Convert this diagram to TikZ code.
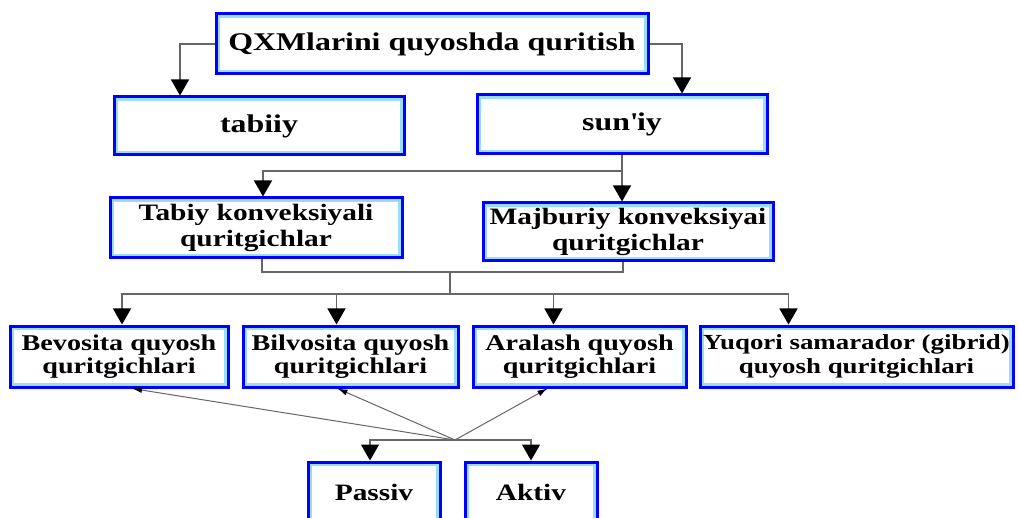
\documentclass[tikz,border=0pt]{standalone}
\usepackage{fontspec}
\newfontfamily\boxfont[FakeStretch=1.25]{Liberation Serif}
\usetikzlibrary{arrows.meta}

\begin{document}
\begin{tikzpicture}[x=1pt, y=-1pt,
    box/.style={draw=blue, line width=3pt, fill=white, inner sep=0pt, align=center,
      path picture={\draw[cyan!40, line width=8pt] (path picture bounding box.south west) rectangle (path picture bounding box.north east);}},
    headfont/.style={font=\boxfont\bfseries\fontsize{25.5}{27}\selectfont},
    midfont/.style={font=\boxfont\bfseries\fontsize{23.5}{26}\selectfont},
    lowfont/.style={font=\boxfont\bfseries\fontsize{22.5}{23.5}\selectfont},
    widefont/.style={font=\boxfont\bfseries\fontsize{21.5}{23.5}\selectfont},
    link/.style={draw=black!60, line width=1.4pt},
    conn/.style={link, -{Triangle[width=18pt,length=16pt,color=black]}},
    fan/.style={draw=black!60, line width=1pt, -{Latex[width=6pt,length=10pt,color=black]}}]
  \useasboundingbox (0,0) rectangle (1019,518);
  \node[box, headfont, minimum width=432, minimum height=60] (top) at (432,44) {QXMlarini quyoshda quritish};
  \node[box, headfont, minimum width=290, minimum height=58] (tab) at (259,126) {tabiiy};
  \node[box, headfont, minimum width=290, minimum height=59] (sun) at (622,124.5) {sun\textquotesingle iy};
  \node[box, midfont, minimum width=292, minimum height=60] (tk) at (256,228) {Tabiy konveksiyali\\quritgichlar};
  \node[box, midfont, minimum width=290, minimum height=58] (mk) at (628,232) {Majburiy konveksiyai\\quritgichlar};
  \node[box, lowfont, minimum width=218, minimum height=61] (bev) at (119,356.5) {Bevosita quyosh\\quritgichlari};
  \node[box, lowfont, minimum width=215, minimum height=61] (bil) at (350.5,356.5) {Bilvosita quyosh\\quritgichlari};
  \node[box, lowfont, minimum width=213, minimum height=61] (ara) at (579.5,356.5) {Aralash quyosh\\quritgichlari};
  \node[box, widefont, minimum width=313, minimum height=61] (yuq) at (856.5,356.5) {Yuqori samarador (gibrid)\\quyosh quritgichlari};
  \node[box, midfont, minimum width=132, minimum height=60] (pas) at (374,492) {Passiv};
  \node[box, midfont, minimum width=132, minimum height=60] (akt) at (531,492) {Aktiv};
  \coordinate (j1) at (450,272);
  \coordinate (j2) at (450,294);
  \coordinate (hub) at (455,440);
  \draw[conn] (top.west) -| ([xshift=-79]tab.north);
  \draw[conn] (top.east) -| ([xshift=60]sun.north);
  \draw[conn] (sun.south) -- (sun.south |- mk.north);
  \draw[conn] (sun.south) |- (622,171) -| ([xshift=7]tk.north);
  \draw[link] ([xshift=6]tk.south) |- (j1) -| ([xshift=-5]mk.south);
  \draw[link] (j1) -- (j2);
  \draw[conn] (j2) -| ([xshift=3]bev.north);
  \draw[conn] (j2) -| ([xshift=-14]bil.north);
  \draw[conn] (j2) -| ([xshift=-26]ara.north);
  \draw[conn] (j2) -| ([xshift=-68]yuq.north);
  \draw[fan] (hub) -- ([xshift=13]bev.south);
  \draw[fan] (hub) -- ([xshift=-13]bil.south);
  \draw[fan] (hub) -- ([xshift=-32]ara.south);
  \draw[conn] (hub) -| ([xshift=-4]pas.north);
  \draw[conn] (hub) -| (akt.north);
\end{tikzpicture}
\end{document}
